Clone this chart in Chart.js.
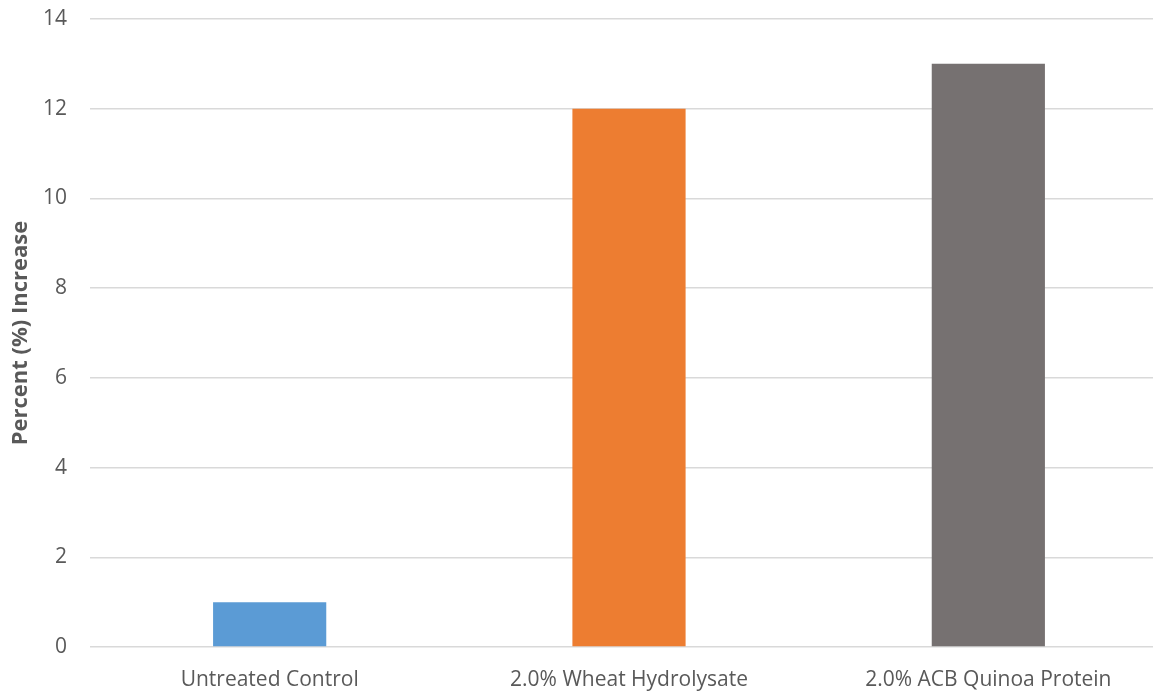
<!DOCTYPE html>
<html>
<head>
<meta charset="utf-8">
<script src="https://cdn.jsdelivr.net/npm/chart.js@4"></script>
<style>
  html, body { margin: 0; padding: 0; background: #fff; overflow: hidden; }
  #wrap { position: absolute; left: 0; top: 0; width: 1168px; height: 691px; }
</style>
</head>
<body>
<div id="wrap"><canvas id="myChart"></canvas></div>
<script>
var categories = ["Untreated Control", "2.0% Wheat Hydrolysate", "2.0% ACB Quinoa Protein"];
var increase = [1, 12, 13];
var barColors = ["#5b9bd5", "#ed7d31", "#767171"];
var yTitle = "Percent (%) Increase";

var ctx = document.getElementById("myChart");
var myChart = new Chart(ctx, {
    type: 'bar',
    data: {
        labels: categories,
        datasets: [{
            label: yTitle,
            data: increase,
            backgroundColor: barColors,
            borderWidth: 0,
            barPercentage: 0.315,
            categoryPercentage: 1
        }]
    },
    options: {
        responsive: true,
        maintainAspectRatio: false,
        animation: false,
        layout: { padding: { top: 19, right: 0, left: 8, bottom: 0 } },
        plugins: {
            legend: { display: false },
            tooltip: { enabled: false }
        },
        scales: {
            x: {
                grid: { display: false },
                border: { display: false },
                ticks: {
                    color: '#595959',
                    padding: 12,
                    maxRotation: 0,
                    font: { family: 'Open Sans', size: 21 }
                },
                afterFit: function(scale) { scale.height = 44; }
            },
            y: {
                min: 0,
                max: 14,
                ticks: {
                    stepSize: 2,
                    color: '#595959',
                    padding: 0,
                    font: { family: 'Open Sans', size: 21 }
                },
                // invisible tick marks keep the labels off the grid
                grid: { color: '#d9d9d9', lineWidth: 1.5, drawTicks: true, tickLength: 23, tickColor: 'rgba(0,0,0,0)' },
                border: { display: false },
                title: {
                    display: true,
                    text: yTitle,
                    color: '#595959',
                    padding: { top: 0, bottom: 0 },
                    font: { family: 'Open Sans', size: 22, weight: 'bold' }
                },
                afterFit: function(scale) { scale.width = 82; }
            }
        }
    }
});
</script>
</body>
</html>
